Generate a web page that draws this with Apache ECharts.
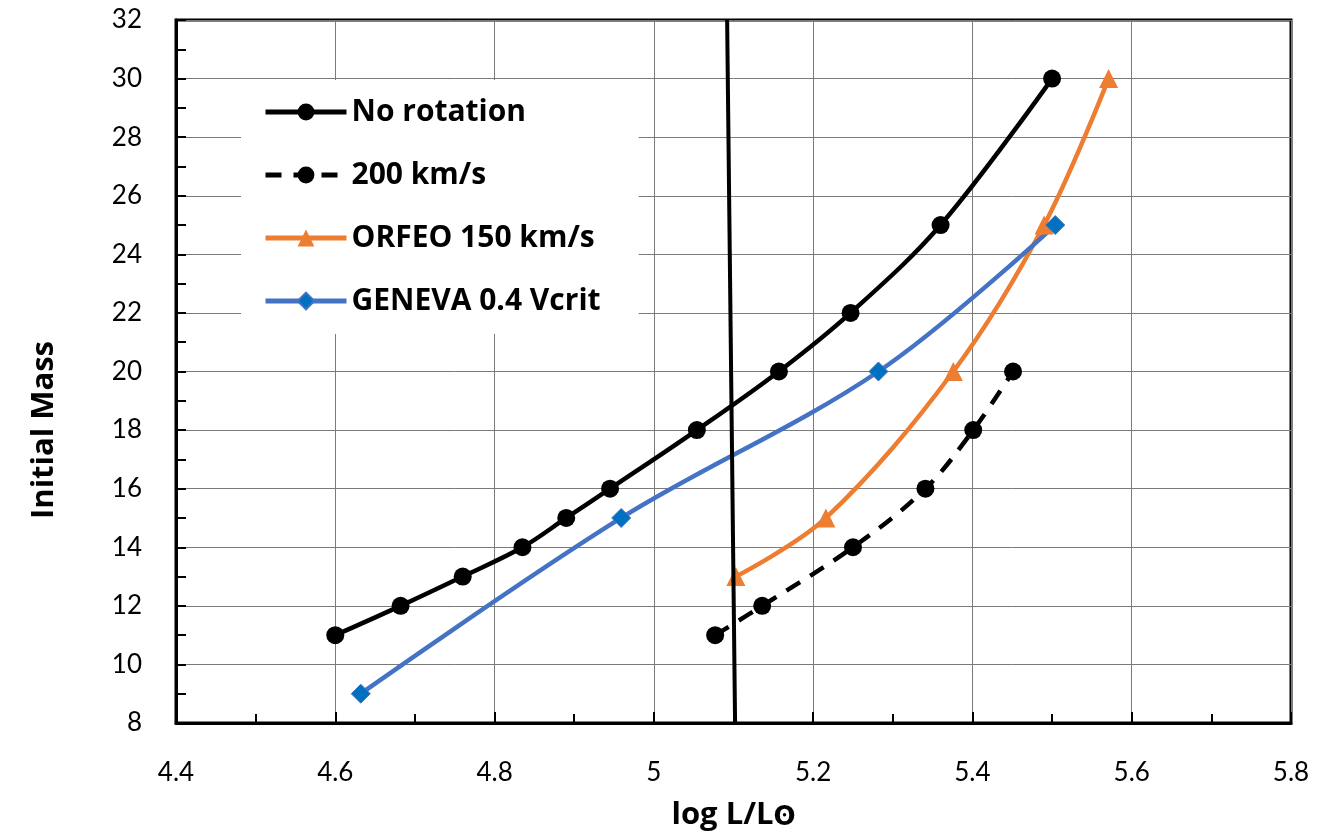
<!DOCTYPE html>
<html>
<head>
<meta charset="utf-8">
<script src="https://cdn.jsdelivr.net/npm/echarts@6/dist/echarts.min.js"></script>
<style>html,body{margin:0;padding:0;background:#fff;}#c{width:1330px;height:839px;}</style>
</head>
<body>
<div id="c"></div>
<script>
// Data
const noRotation = [[4.600,11],[4.682,12],[4.760,13],[4.835,14],[4.890,15],[4.945,16],[5.054,18],[5.157,20],[5.247,22],[5.360,25],[5.500,30]];
const rot200 = [[5.077,11],[5.136,12],[5.250,14],[5.341,16],[5.401,18],[5.451,20]];
const orfeo150 = [[5.103,13],[5.216,15],[5.376,20],[5.490,25],[5.571,30]];
const geneva04 = [[4.632,9],[4.959,15],[5.282,20],[5.504,25]];
const verticalLine = [[5.092,32],[5.102,8]];
const seriesNames = ['No rotation','200 km/s','ORFEO 150 km/s','GENEVA 0.4 Vcrit'];
const xTitleMain = 'log L/L';
const xTitleSun = 'ʘ';
const yTitle = 'Initial Mass';

const chart = echarts.init(document.getElementById('c'));
const tickFont = {fontFamily:'Lato', fontSize:26, color:'#000'};
chart.setOption({
  animation:false,
  backgroundColor:'#fff',
  grid:{left:176, right:39, top:20, bottom:116, show:true, borderColor:'#000', borderWidth:3, containLabel:false},
  legend:{
    data:seriesNames, orient:'vertical', left:241, top:80,
    backgroundColor:'#fff', padding:[13,38,14,22],
    itemWidth:81, itemHeight:21, itemGap:25,
    lineStyle:{width:5},
    textStyle:{fontFamily:'Open Sans', fontWeight:'bold', fontSize:30, color:'#000', lineHeight:38}
  },
  graphic:[{
    type:'text', x:44, y:430, rotation:Math.PI/2,
    style:{text:yTitle, fontFamily:'Open Sans', fontWeight:'bold', fontSize:31, fill:'#000',
           textAlign:'center', textVerticalAlign:'middle'}
  }],
  xAxis:{
    type:'value', min:4.4, max:5.8, interval:0.2,
    name:'{a|' + xTitleMain + '}{b|' + xTitleSun + '}', nameLocation:'middle', nameGap:76,
    nameTextStyle:{
      rich:{
        a:{fontFamily:'Open Sans', fontWeight:'bold', fontSize:31, color:'#000'},
        b:{fontFamily:'DejaVu Sans', fontWeight:'bold', fontSize:26, color:'#000', padding:[6,0,0,0]}
      }
    },
    axisLine:{show:true, lineStyle:{color:'#000', width:3}},
    axisTick:{show:true, inside:true, length:11, lineStyle:{color:'#000', width:2}},
    minorTick:{show:true, splitNumber:2, length:9, lineStyle:{color:'#000', width:2}},
    axisLabel:Object.assign({margin:37, formatter:v=>String(+v.toFixed(1))}, tickFont),
    splitLine:{show:true, lineStyle:{color:'#7a7a7a', width:1}},
    minorSplitLine:{show:false}
  },
  yAxis:{
    type:'value', min:8, max:32, interval:2,
    axisLine:{show:true, lineStyle:{color:'#000', width:3}},
    axisTick:{show:true, inside:true, length:10, lineStyle:{color:'#000', width:2}},
    minorTick:{show:true, splitNumber:2, length:10, lineStyle:{color:'#000', width:2}},
    axisLabel:Object.assign({margin:34}, tickFont),
    splitLine:{show:true, lineStyle:{color:'#7a7a7a', width:1}}
  },
  series:[
    {name:seriesNames[0], type:'line', data:noRotation, smooth:0.35,
     symbol:'circle', symbolSize:18, showSymbol:true,
     lineStyle:{color:'#000', width:4.5}, itemStyle:{color:'#000'}},
    {name:seriesNames[1], type:'line', data:rot200, smooth:0.35,
     symbol:'circle', symbolSize:18,
     lineStyle:{color:'#000', width:4.5, type:[16,12]}, itemStyle:{color:'#000'}},
    {name:seriesNames[2], type:'line', data:orfeo150, smooth:0.35,
     symbol:'triangle', symbolSize:19,
     lineStyle:{color:'#ED7D31', width:4.5}, itemStyle:{color:'#ED7D31'}},
    {name:seriesNames[3], type:'line', data:geneva04, smooth:0.35,
     symbol:'diamond', symbolSize:19,
     lineStyle:{color:'#4472C4', width:4.5}, itemStyle:{color:'#0070C0', borderColor:'#4472C4', borderWidth:1}},
    {name:'boundary', type:'line', data:verticalLine, symbol:'none',
     lineStyle:{color:'#000', width:4}, z:5}
  ]
});
</script>
</body>
</html>
